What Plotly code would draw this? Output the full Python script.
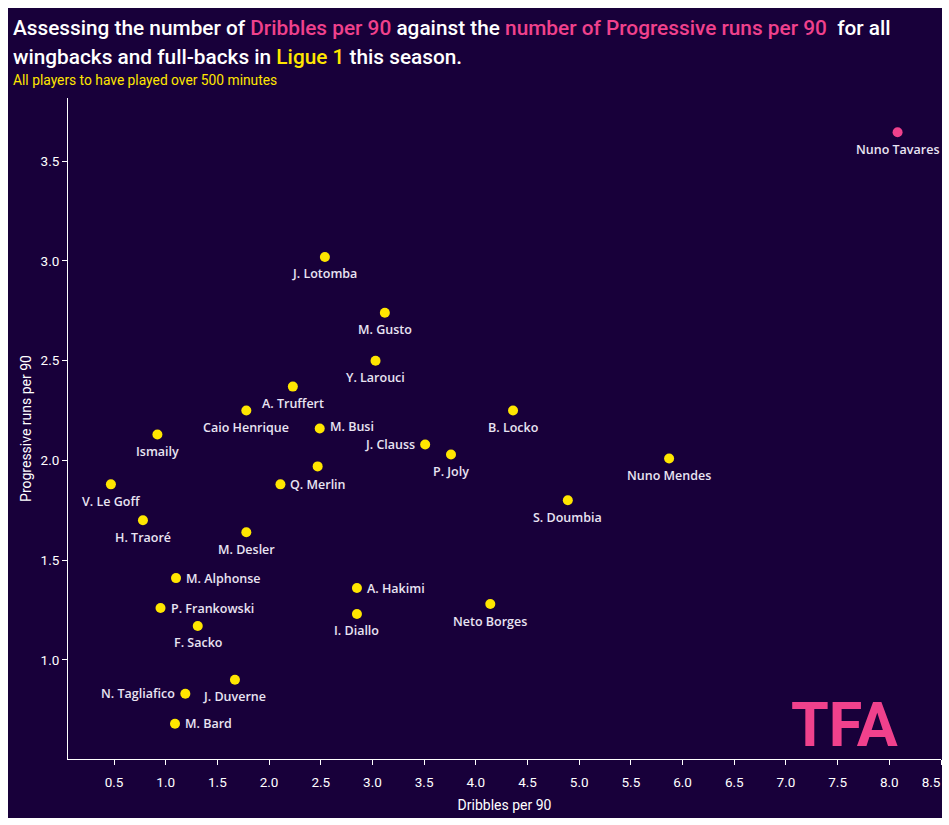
import plotly.graph_objects as go

# ---- data ----
players = ["Nuno Tavares", "J. Lotomba", "M. Gusto", "Y. Larouci", "A. Truffert",
           "Caio Henrique", "M. Busi", "Ismaily", "J. Clauss", "P. Joly", "B. Locko",
           "Nuno Mendes", "", "Q. Merlin", "V. Le Goff", "S. Doumbia", "H. Traoré",
           "M. Desler", "M. Alphonse", "A. Hakimi", "Neto Borges", "P. Frankowski",
           "I. Diallo", "F. Sacko", "J. Duverne", "N. Tagliafico", "M. Bard"]
dribbles = [8.08, 2.54, 3.12, 3.03, 2.23, 1.78, 2.49, 0.92, 3.51, 3.76, 4.36,
            5.87, 2.47, 2.11, 0.47, 4.89, 0.78, 1.78, 1.10, 2.85, 4.14, 0.95,
            2.85, 1.31, 1.67, 1.19, 1.09]
prog_runs = [3.645, 3.02, 2.74, 2.50, 2.37, 2.25, 2.16, 2.13, 2.08, 2.03, 2.25,
             2.01, 1.97, 1.88, 1.88, 1.80, 1.70, 1.64, 1.41, 1.36, 1.28, 1.26,
             1.23, 1.17, 0.90, 0.83, 0.68]
x_ticks = [0.5, 1.0, 1.5, 2.0, 2.5, 3.0, 3.5, 4.0, 4.5, 5.0, 5.5, 6.0, 6.5, 7.0, 7.5, 8.0, 8.5]
y_ticks = [1.0, 1.5, 2.0, 2.5, 3.0, 3.5]
highlight = "Nuno Tavares"

# ---- styles ----
BG = "#18003a"
YELLOW = "#ffe600"
PINK = "#f0418c"
LABEL = "#e9e4f2"

right_labels = {"M. Busi", "Q. Merlin", "M. Alphonse", "P. Frankowski", "A. Hakimi", "M. Bard"}
left_labels = {"J. Clauss", "N. Tagliafico"}

colors = [PINK if p == highlight else YELLOW for p in players]

X_RANGE = [0.055, 8.5]
Y_RANGE = [0.503, 3.817]

fig = go.Figure()
fig.add_trace(go.Scatter(
    x=dribbles, y=prog_runs, mode="markers",
    marker=dict(size=10, color=colors, line=dict(width=0)),
    hoverinfo="skip", showlegend=False, cliponaxis=False,
))
# empty trace so the overlay axis (last tick label) gets drawn
fig.add_trace(go.Scatter(x=[], y=[], xaxis="x2", yaxis="y", mode="markers",
                         hoverinfo="skip", showlegend=False))

label_font = dict(family="Open Sans", size=12.5, color=LABEL, weight=600)
for name, xv, yv in zip(players, dribbles, prog_runs):
    if not name:
        continue
    if name in right_labels:
        kw = dict(xanchor="left", yanchor="middle", xshift=8, yshift=2 if name == "M. Busi" else 0)
    elif name in left_labels:
        kw = dict(xanchor="right", yanchor="middle", xshift=-8, yshift=0)
    else:
        kw = dict(xanchor="center", yanchor="middle", xshift=0, yshift=-17)
    fig.add_annotation(x=xv, y=yv, xref="x", yref="y", text=name, showarrow=False,
                       font=label_font, **kw)

L, R, T, B = 68, 8, 98, 66
W, H = 949, 825
pw, ph = W - L - R, H - T - B

def px(xp):
    return (xp - L) / pw

def py(yp):
    return (H - B - yp) / ph

fig.add_shape(type="rect", xref="paper", yref="paper",
              x0=px(8), x1=px(942), y0=py(818), y1=py(8),
              fillcolor=BG, line=dict(width=0), layer="below")

TF = "Roboto"
tick_font = dict(family=TF, size=13.5, color="white")
last_tick = x_ticks[-1]

fig.add_annotation(
    xref="paper", yref="paper", x=px(11), y=py(28), xanchor="left", yanchor="middle",
    showarrow=False, align="left",
    text=("Assessing the number of <span style='color:%s'>Dribbles per 90</span> against the "
          "<span style='color:%s'>number of Progressive runs per 90</span>  for all") % (PINK, PINK),
    font=dict(family=TF, size=20.8, color="white", weight=500))
fig.add_annotation(
    xref="paper", yref="paper", x=px(11), y=py(57), xanchor="left", yanchor="middle",
    showarrow=False, align="left",
    text="wingbacks and full-backs in <span style='color:%s'>Ligue 1</span> this season." % YELLOW,
    font=dict(family=TF, size=20.8, color="white", weight=500))
fig.add_annotation(
    xref="paper", yref="paper", x=px(11), y=py(80), xanchor="left", yanchor="middle",
    showarrow=False, align="left",
    text="All players to have played over 500 minutes",
    font=dict(family=TF, size=13.8, color=YELLOW))
fig.add_annotation(
    xref="paper", yref="paper", x=px(844), y=py(725), xanchor="center", yanchor="middle",
    showarrow=False, text="<b>TFA</b>",
    font=dict(family="Roboto", size=61, color=PINK, weight=900))

fig.update_layout(
    width=W, height=H,
    margin=dict(l=L, r=R, t=T, b=B),
    paper_bgcolor="white", plot_bgcolor=BG,
    font=dict(family=TF, color="white"),
    xaxis=dict(range=X_RANGE, tickvals=x_ticks,
               ticktext=["%.1f" % v if v != last_tick else "" for v in x_ticks],
               showgrid=False, zeroline=False, showline=True, linecolor="white", linewidth=1,
               ticks="outside", ticklen=5, tickcolor="white", ticklabelstandoff=6,
               tickfont=tick_font,
               title=dict(text="Dribbles per 90", font=dict(family=TF, size=14, color="white"), standoff=10)),
    xaxis2=dict(range=X_RANGE, overlaying="x", side="bottom", anchor="y",
                tickvals=[last_tick], ticktext=["%.1f" % last_tick],
                ticklabelshift=-10, ticklabeloverflow="allow",
                ticks="outside", ticklen=5, tickcolor="rgba(0,0,0,0)", ticklabelstandoff=6,
                showline=False, showgrid=False, zeroline=False, tickfont=tick_font),
    yaxis=dict(range=Y_RANGE, tickvals=y_ticks, ticktext=["%.1f" % v for v in y_ticks],
               showgrid=False, zeroline=False, showline=True, linecolor="white", linewidth=1,
               ticks="outside", ticklen=5, tickcolor="white",
               tickfont=tick_font,
               title=dict(text="Progressive runs per 90", font=dict(family=TF, size=14, color="white"), standoff=5)),
)

fig.write_html("out.html")
